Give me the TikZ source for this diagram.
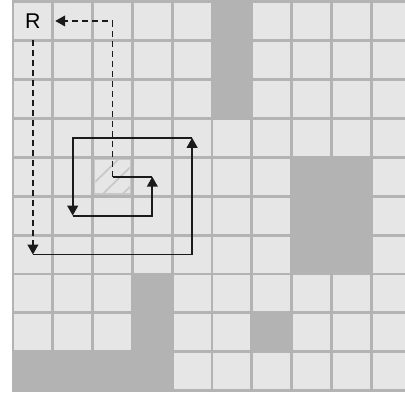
\documentclass[tikz,border=0pt]{standalone}
\usepackage{fontspec}
\setmainfont{Liberation Sans}
\usetikzlibrary{arrows.meta}
\definecolor{cellgray}{HTML}{E6E6E6}
\definecolor{wallgray}{HTML}{B3B3B3}
\definecolor{hatchgray}{HTML}{C8C8C8}
\definecolor{inkblack}{HTML}{1A1A1A}

\begin{document}
\begin{tikzpicture}[x=29.85pt, y=-29.2pt,
  cell/.style = {fill=cellgray},
  wall/.style = {fill=wallgray},
  route/.style = {draw=inkblack, line width=1.4pt, -{Triangle[length=7.5pt, width=8pt]}},
  back/.style = {route, dash pattern=on 4.5pt off 3pt},
  goal/.style = {minimum width=33pt, minimum height=28.5pt, inner sep=0pt, font=\fontsize{16}{16}\selectfont}]
  \useasboundingbox (-0.327,-0.0385) rectangle (9.849,10.077);
  \begin{scope}
    \clip (-0.327,-0.0385) rectangle (9.849,10.077);
    % floor and free cells
    \fill[wall] ([shift={(-1.1pt,1.1pt)}]0,0) rectangle ([shift={(1.1pt,-1.1pt)}]10,10);
    \foreach \c in {0,...,9}
      \foreach \r in {0,...,9}
        \fill[cell] ([shift={(1.1pt,-1.1pt)}]\c,\r) rectangle ([shift={(-1.1pt,1.1pt)}]\c+1,\r+1);
    % obstacles
    \fill[wall] (5,0) rectangle (6,3);
    \fill[wall] (7,4) rectangle (9,7);
    \fill[wall] (3,7) rectangle (4,9);
    \fill[wall] (0,9) rectangle (4,10);
    \fill[wall] (6,8) rectangle (7,9);
  \end{scope}
  % start cell
  \draw[hatchgray, line width=0.9pt] ([shift={(1.6pt,-1.6pt)}]2,4) rectangle ([shift={(-1.6pt,1.6pt)}]3,5);
  \begin{scope}
    \clip ([shift={(2pt,-2pt)}]2,4) rectangle ([shift={(-2pt,2pt)}]3,5);
    \foreach \s in {0.7,1.2,1.7}
      \draw[hatchgray, line width=1.3pt] (2,4+\s) -- (2+\s,4);
  \end{scope}

  \node[goal] (R) at (0.5,0.5) {R};
  \coordinate (p1) at (0.5,6.5);
  \coordinate (p2) at (4.5,6.5);
  \coordinate (p3) at (4.5,3.5);
  \coordinate (p4) at (1.5,3.5);
  \coordinate (p5) at (1.5,5.5);
  \coordinate (p6) at (3.5,5.5);
  \coordinate (p7) at (3.5,4.5);
  \coordinate (s) at (2.5,4.5);
  \coordinate (top) at (2.5,0.5);

  \draw[back] (R) -- (p1);
  \draw[route] (p1) -- (p2) -- (p3);
  \draw[route] (p3) -- (p4) -- (p5);
  \draw[route] (p5) -- (p6) -- (p7);
  \draw[route, -] (p7) -- (s);
  \draw[back] (s) -- (top) -- (R);
\end{tikzpicture}
\end{document}
